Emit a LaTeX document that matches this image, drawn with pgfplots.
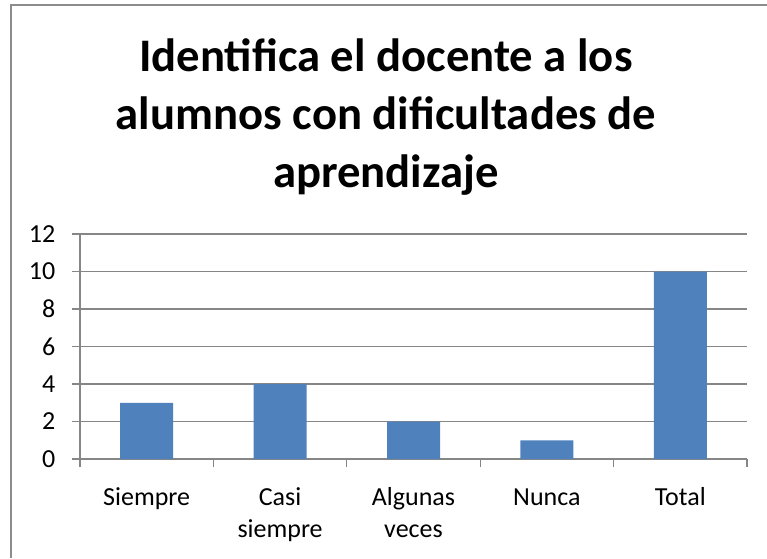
\documentclass[border=0pt]{standalone}
\usepackage{fontspec}
\setmainfont{Carlito}
\usepackage{pgfplots}
\pgfplotsset{compat=1.18}
\definecolor{barblue}{HTML}{4F81BD}
\definecolor{gridgray}{HTML}{868686}
\definecolor{framegray}{HTML}{8C8C8C}
\begin{document}
\begin{tikzpicture}[x=0.75pt,y=0.75pt]
\useasboundingbox (0,0) rectangle (767,558);
\draw[framegray,line width=1.5pt] (11,0) -- (11,553) -- (767,553);
\node[anchor=base,font=\fontsize{35}{42}\selectfont\bfseries] at (386,486) {Identifica el docente a los};
\node[anchor=base,font=\fontsize{35}{42}\selectfont\bfseries] at (386,428) {alumnos con dificultades de};
\node[anchor=base,font=\fontsize{35}{42}\selectfont\bfseries] at (386,371) {aprendizaje};
\begin{axis}[
  at={(60pt,74.25pt)}, anchor=south west,
  scale only axis,
  width=500.25pt, height=168.75pt,
  xmin=-0.5, xmax=4.5, ymin=0, ymax=12,
  ytick={0,2,...,12},
  xtick={0,1,2,3,4},
  xticklabels={\strut Siempre, {\strut Casi\\siempre}, {\strut Algunas\\veces}, \strut Nunca, \strut Total},
  minor xtick={-0.5,0.5,1.5,2.5,3.5,4.5},
  major x tick style={draw=none},
  minor x tick style={gridgray, line width=0.9pt},
  y tick style={gridgray, line width=0.9pt},
  tick align=outside,
  major tick length=6pt, minor tick length=6pt,
  axis x line*=bottom, axis y line*=left,
  axis line style={gridgray, line width=0.9pt, -},
  ymajorgrids, grid style={gridgray, line width=0.9pt},
  /pgf/number format/assume math mode=true,
  tick label style={font=\fontsize{19.5}{24.5}\selectfont},
  xticklabel style={align=center, yshift=-8pt},
  yticklabel style={xshift=-9pt},
  clip=false,
]
\addplot[ybar, bar width=39.75pt, fill=barblue, draw=none] coordinates {(0,3) (1,4) (2,2) (3,1) (4,10)};
\end{axis}
\end{tikzpicture}
\end{document}
